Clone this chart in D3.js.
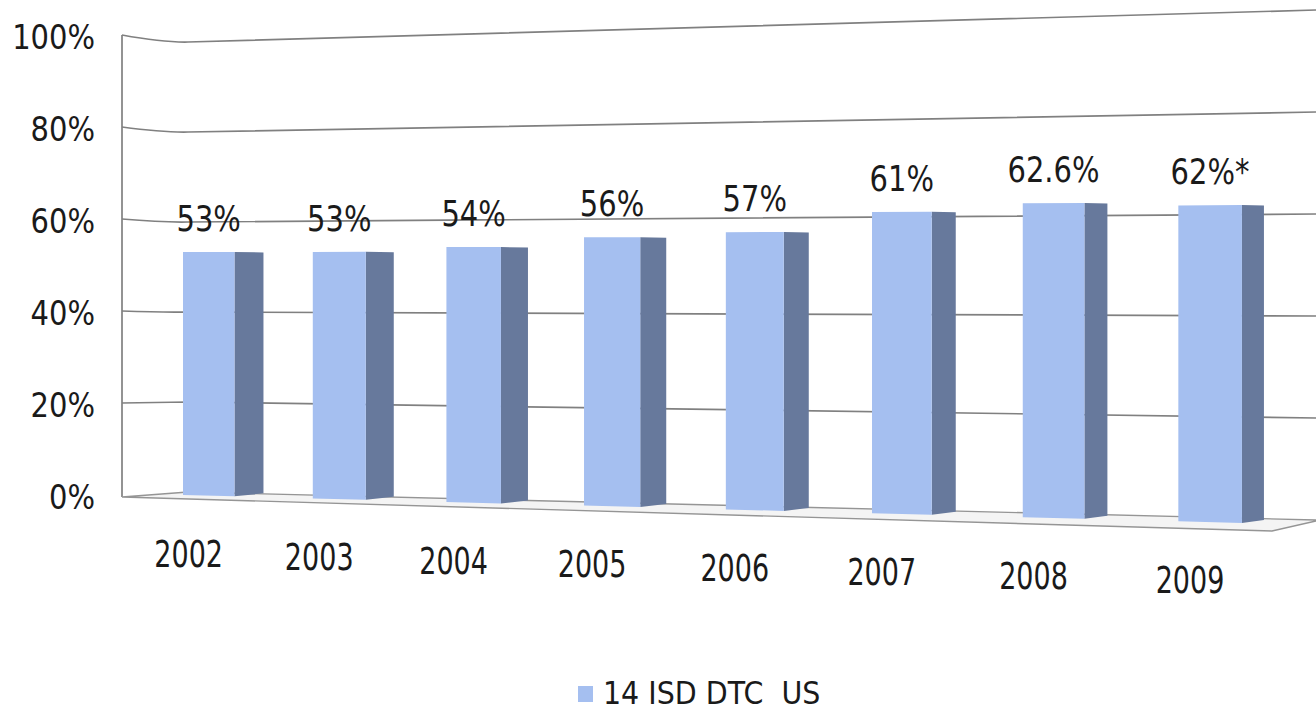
<!DOCTYPE html>
<html>
<head>
<meta charset="utf-8">
<script src="https://cdn.jsdelivr.net/npm/d3@7"></script>
<style>
  html, body { margin: 0; padding: 0; background: #ffffff; }
  svg { display: block; }
  text { font-family: "DejaVu Sans", Verdana, sans-serif; fill: #1a1a1a; white-space: pre; }
</style>
</head>
<body>
<svg id="chart" width="1316" height="711"></svg>
<script>
// ---- data ----
const years = ["2002", "2003", "2004", "2005", "2006", "2007", "2008", "2009"];
const values = [53, 53, 54, 56, 57, 61, 62.6, 62];
const valueLabels = ["53%", "53%", "54%", "56%", "57%", "61%", "62.6%", "62%*"];
const yTicks = [0, 20, 40, 60, 80, 100];
const tickLabels = ["0%", "20%", "40%", "60%", "80%", "100%"];
const seriesName = "14 ISD DTC  US";

// ---- styles ----
const frontColor = "#A5BFF0";
const sideColor = "#67799C";
const gridColor = "#808080";

const svg = d3.select("#chart");

// ---- scales ----
// logical band position along the category axis (0 = left edge of first bar, 1 = right edge of last)
const x = d3.scaleBand().domain(years).range([0, 1]).paddingInner(0.6).paddingOuter(0);
// value -> logical height (before perspective)
const yH = d3.scaleLinear().domain([0, 100]).range([0, 458.5]);
// left wall / axis scale
const yAxis = d3.scaleLinear().domain([0, 100]).range([495, 35]);
// back wall: corner edge and right edge
const yWallL = d3.scaleLinear().domain([0, 100]).range([492, 42]);
const yWallR = d3.scaleLinear().domain([0, 100]).range([520, 10]);

// perspective projection of the bars' front plane
const P = { x0: 183, xa: 927.3, y0: 495, ya: -27.4, g: -0.106 };
function proj(t, v) {
  const w = 1 + P.g * t;
  return [(P.x0 + P.xa * t) / w, (P.y0 + P.ya * t - yH(v)) / w];
}
function depth(t) { return 29.4 - 7.4 * t; }

const axisX = 122, cornerX = 188, rightX = 1316;

// ---- gridlines (left wall + back wall) ----
const grid = svg.append("g").attr("fill", "none").attr("stroke", gridColor).attr("stroke-width", 1.7);
grid.selectAll("path.grid").data(yTicks.filter(d => d > 0)).join("path")
  .attr("class", "grid")
  .attr("d", d => {
    const p = d3.path();
    p.moveTo(axisX, yAxis(d));
    p.quadraticCurveTo(cornerX - 25, yWallL(d) + 0.5, cornerX, yWallL(d));
    p.lineTo(rightX, yWallR(d));
    return p.toString();
  });
// vertical left wall edge
grid.append("line").attr("x1", axisX).attr("x2", axisX).attr("y1", yAxis(100)).attr("y2", yAxis(0) + 2);

// ---- floor ----
const floor = svg.append("g");
floor.append("path")
  .attr("d", () => {
    const p = d3.path();
    p.moveTo(axisX, yAxis(0) + 2);
    p.lineTo(cornerX, yWallL(0));
    p.lineTo(rightX, yWallR(0));
    p.lineTo(rightX, yWallR(0) + 1);
    p.lineTo(1272, 531);
    p.closePath();
    return p.toString();
  })
  .attr("fill", "#f4f4f4").attr("stroke", "#959595").attr("stroke-width", 1.4);

// ---- bars ----
const bars = svg.append("g");
const data = years.map((y, i) => ({ year: y, value: values[i], label: valueLabels[i] }));

bars.selectAll("path.side").data(data).join("path")
  .attr("class", "side")
  .attr("fill", sideColor)
  .attr("d", d => {
    const tr = x(d.year) + x.bandwidth();
    const top = proj(tr, d.value), bot = proj(tr, 0);
    const dx = depth(tr);
    return d3.line()([top, [top[0] + dx, top[1] + 0.5], [bot[0] + dx, bot[1] - 3], bot]) + "Z";
  });

bars.selectAll("path.front").data(data).join("path")
  .attr("class", "front")
  .attr("fill", frontColor)
  .attr("d", d => {
    const tl = x(d.year), tr = tl + x.bandwidth();
    return d3.line()([proj(tl, 0), proj(tl, d.value), proj(tr, d.value), proj(tr, 0)]) + "Z";
  });

// ---- value labels ----
svg.append("g").selectAll("text").data(data).join("text")
  .attr("transform", d => {
    const [px, py] = proj(x(d.year) + x.bandwidth() / 2, d.value);
    return `translate(${px},${py - 21}) scale(1,1.22)`;
  })
  .attr("text-anchor", "middle")
  .attr("font-size", 29)
  .text(d => d.label);

// ---- category labels ----
svg.append("g").selectAll("text").data(data).join("text")
  .attr("transform", d => {
    const [px, py] = proj(x(d.year) + x.bandwidth() / 2, 0);
    return `translate(${px - 20},${py + 71}) scale(1,1.4)`;
  })
  .attr("text-anchor", "middle")
  .attr("font-size", 27)
  .text(d => d.year);

// ---- y axis labels ----
svg.append("g").selectAll("text").data(yTicks).join("text")
  .attr("transform", d => `translate(95,${yAxis(d) + 14}) scale(1,1.14)`)
  .attr("text-anchor", "end")
  .attr("font-size", 29)
  .text((d, i) => tickLabels[i]);

// ---- legend ----
const legend = svg.append("g");
legend.append("rect").attr("x", 578).attr("y", 686).attr("width", 15).attr("height", 16).attr("fill", frontColor);
legend.append("text")
  .attr("transform", "translate(603,703.5) scale(1,1.1)")
  .attr("font-size", 28.5)
  .text(seriesName);
</script>
</body>
</html>
